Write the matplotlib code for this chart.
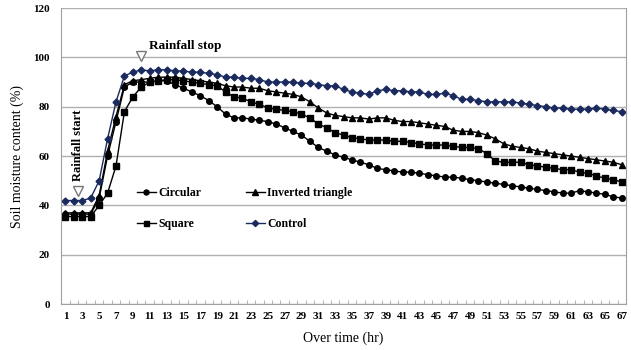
import matplotlib
matplotlib.use("Agg")
import matplotlib.pyplot as plt
import numpy as np

###############################################################################
## Data
###############################################################################

hours = np.arange(1, 68)

circular = [36.5, 36.5, 36.5, 36.5, 43, 60, 74, 88, 90, 90,
            90, 90.5, 90.5, 89, 87.5, 86, 84.5, 82.5, 80, 77,
            75.5, 75.5, 75, 74.5, 74, 73, 71.5, 70, 68.5, 66,
            63.5, 62, 60.5, 59.5, 58.5, 57.5, 56.5, 55, 54.5, 54,
            53.5, 53.5, 53, 52.5, 52, 51.5, 51.5, 51, 50.5, 50,
            49.5, 49, 48.5, 48, 47.5, 47, 46.5, 46, 45.5, 45,
            45, 46, 45.5, 45, 44.5, 43.5, 43]

triangle = [37, 37, 37, 37, 44, 62, 76, 89, 90.5, 91,
            91.5, 92, 92, 92, 91.5, 91, 90.5, 90, 89.5, 88.5,
            88, 88, 87.5, 87.5, 86.5, 86, 85.5, 85, 84, 82,
            79.5, 77.5, 76.5, 76, 75.5, 75.5, 75, 75.5, 75.5, 74.5,
            74, 74, 73.5, 73, 72.5, 72, 70.5, 70, 70, 69.5,
            68.5, 67, 65, 64, 63.5, 63, 62, 61.5, 61, 60.5,
            60, 59.5, 59, 58.5, 58, 57.5, 56.5]

square = [35.5, 35.5, 35.5, 35.5, 40, 45, 56, 78, 84, 88,
          90, 90.5, 91, 91, 90.5, 90, 89.5, 89, 88.5, 86,
          84, 83.5, 82, 81, 79.5, 79, 78.5, 78, 77, 75.5,
          73, 71.5, 69.5, 68.5, 67.5, 67, 66.5, 66.5, 66.5, 66,
          66, 65.5, 65, 64.5, 64.5, 64.5, 64, 63.5, 63.5, 63,
          61, 58, 57.5, 57.5, 57.5, 56.5, 56, 55.5, 55, 54.5,
          54.5, 53.5, 53, 52, 51, 50.5, 49.5]

control = [42, 42, 42, 43, 50, 67, 82, 92.5, 94, 95,
           94.5, 95, 95, 94.5, 94.5, 94, 94, 93.5, 93, 92,
           92, 91.5, 91.5, 91, 90, 90, 90, 90, 89.5, 89.5,
           89, 88.5, 88.5, 87, 86, 85.5, 85, 86.5, 87, 86.5,
           86.5, 86, 86, 85, 85, 85.5, 84.5, 83, 83, 82.5,
           82, 82, 82, 82, 81.5, 81, 80.5, 80, 79.5, 79.5,
           79, 79, 79, 79.5, 79, 78.5, 78]

start_hour, start_level = 2.5, 46
stop_hour, stop_level = 10, 100.5

###############################################################################
## Plot
###############################################################################

plt.rcParams['font.family'] = ['Liberation Serif', 'DejaVu Serif']
plt.rcParams['font.weight'] = 'bold'

fig = plt.figure(figsize=(6.31, 3.5), dpi=100)
ax = fig.add_axes([0.097, 0.131, 0.895, 0.846])

ax.plot(hours, circular, '-', color='black', marker='o', markersize=4,
        linewidth=1, label='Circular')
ax.plot(hours, square, '-', color='black', marker='s', markersize=4,
        linewidth=1, label='Square')
ax.plot(hours, triangle, '-', color='black', marker='^', markersize=4.5,
        linewidth=1, label='Inverted triangle')
ax.plot(hours, control, '-', color='#1b2a5e', marker='D', markersize=3.5,
        linewidth=1, label='Control')

# rainfall markers
ax.plot([start_hour], [start_level], marker='v', markersize=7,
        markerfacecolor='white', markeredgecolor='#777777', linestyle='none')
ax.plot([stop_hour], [stop_level], marker='v', markersize=7,
        markerfacecolor='white', markeredgecolor='#777777', linestyle='none')
ax.text(start_hour, start_level + 4, 'Rainfall start', rotation=90,
        ha='center', va='bottom', fontsize=9)
ax.text(stop_hour + 0.9, stop_level + 1.5, 'Rainfall stop',
        ha='left', va='bottom', fontsize=9.5)

ax.set_xlim(0.5, 67.5)
ax.set_ylim(0, 120)
ax.set_xticks(np.arange(1, 68, 2))
ax.set_xticks(np.arange(0.5, 68, 1), minor=True)
ax.set_yticks(np.arange(0, 121, 20))
ax.tick_params(axis='x', which='major', length=0, labelsize=8, pad=6)
ax.tick_params(axis='x', which='minor', length=3, direction='in',
               color='#aaaaaa')
ax.tick_params(axis='y', length=0, labelsize=8, pad=8)
ax.grid(axis='y', color='#b0b0b0', linewidth=1)
ax.set_axisbelow(True)
for s in ['left', 'bottom', 'right']:
    ax.spines[s].set_color('#a0a0a0')
ax.spines['top'].set_visible(False)

ax.set_xlabel('Over time (hr)', fontsize=10, labelpad=7)
ax.set_ylabel('Soil moisture content (%)', fontsize=10, labelpad=7)

ax.legend(loc='upper left', bbox_to_anchor=(0.115, 0.43), ncol=2,
          frameon=False, fontsize=8.5, handlelength=1.6, handletextpad=0.2,
          columnspacing=3.8, labelspacing=1.6, markerscale=0.9)

plt.savefig('out.png', dpi=100)
